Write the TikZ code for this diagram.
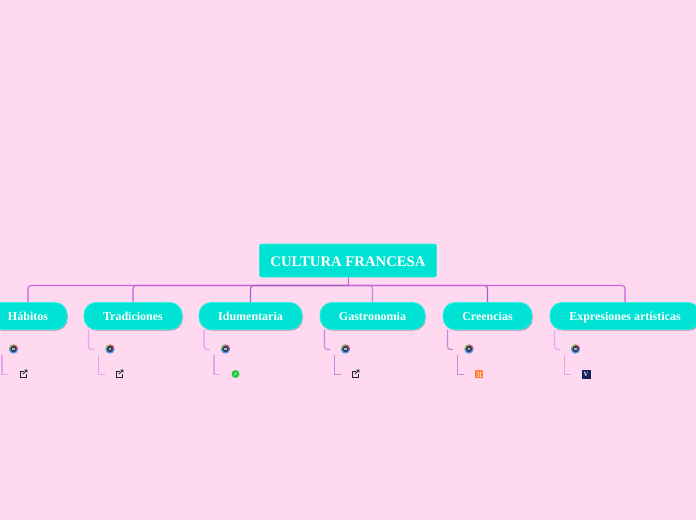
\documentclass[tikz,border=0pt]{standalone}
\usepackage{fontspec}
\setmainfont{Liberation Serif}
\usetikzlibrary{shadows}
\definecolor{pagebg}{HTML}{FFD9F0}
\definecolor{turq}{HTML}{00E3D4}
\definecolor{turqline}{HTML}{2CF0E2}
\definecolor{linka}{HTML}{C764DC}
\definecolor{linkb}{HTML}{A95CC8}
\definecolor{linkc}{HTML}{E4A6EC}
\definecolor{linkd}{HTML}{C986D8}
\definecolor{iconblue}{HTML}{2F3D5C}
\definecolor{icongreen}{HTML}{20CC3C}
\definecolor{iconorange}{HTML}{FF8033}
\definecolor{iconnavy}{HTML}{14205A}
\tikzset{
  rootbox/.style={draw=turqline,fill=turq,text=white,rounded corners=1.5pt,line width=.8pt,
    minimum width=177pt,minimum height=33pt,inner sep=0pt,text height=11pt,text depth=0pt,font=\bfseries\fontsize{14.7}{16}\selectfont},
  topicbox/.style={draw=turqline,fill=turq,text=white,rounded corners=12pt,line width=.8pt,
    minimum height=27pt,inner sep=0pt,text height=8pt,text depth=0pt,font=\bfseries\fontsize{12}{14}\selectfont,
    drop shadow={shadow xshift=.7pt,shadow yshift=-1pt,fill=black,opacity=.35}},
  link/.style={draw=linka,line width=1.1pt,rounded corners=3pt},
  sublink/.style={draw=linkc,line width=1.1pt,rounded corners=3pt},
  leaflink/.style={draw=linkc,line width=1.1pt},
  ringicon/.style={circle,inner sep=0pt,minimum size=9pt,fill=iconblue,path picture={
    \draw[line width=1.1pt,green!40!olive!70!white] (path picture bounding box.center) ++(-4pt,0pt) arc[start angle=180,end angle=90,radius=4pt];
    \draw[line width=1.1pt,red!50!purple!70!white] (path picture bounding box.center) ++(0pt,4pt) arc[start angle=90,end angle=0,radius=4pt];
    \draw[line width=1.1pt,blue!50!cyan!70!white] (path picture bounding box.center) ++(4pt,0pt) arc[start angle=0,end angle=-180,radius=4pt];
    \fill[white!70!black] (path picture bounding box.center) ++(-1.2pt,-1.2pt) rectangle ++(2.2pt,2pt);}},
  extlink/.style={inner sep=0pt,minimum size=8pt,path picture={
    \draw[black!85,line width=.8pt] (path picture bounding box.center) ++(.5pt,2.6pt) -- ++(-3.2pt,0pt) -- ++(0pt,-6pt) -- ++(6pt,0pt) -- ++(0pt,3.2pt);
    \draw[black!85,line width=.8pt] (path picture bounding box.center) ++(-.7pt,-.7pt) -- ++(4.2pt,4.2pt) ++(-2.6pt,0pt) -- ++(2.6pt,0pt) -- ++(0pt,-2.6pt);}},
  greenicon/.style={circle,inner sep=0pt,minimum size=8pt,fill=icongreen,path picture={
    \draw[white!60!icongreen,line width=.8pt] (path picture bounding box.center) ++(-1.2pt,-1.2pt) -- ++(2.4pt,2.4pt);}},
  orangeicon/.style={inner sep=0pt,minimum size=8.5pt,fill=iconorange,path picture={
    \draw[white!60!iconorange,line width=.6pt] (path picture bounding box.center) ++(-2.5pt,2pt) -- ++(1.5pt,0pt) -- ++(0pt,-4pt) -- ++(-1.5pt,0pt);
    \draw[white!60!iconorange,line width=.6pt] (path picture bounding box.center) ++(2.5pt,2pt) -- ++(-1.5pt,0pt) -- ++(0pt,-4pt) -- ++(1.5pt,0pt);}},
  navyicon/.style={inner sep=0pt,minimum size=9pt,fill=iconnavy,text=white,font=\bfseries\fontsize{6.5}{6.5}\selectfont}
}
\begin{document}
\begin{tikzpicture}[x=1pt,y=-1pt]
  \path[fill=pagebg,use as bounding box] (0,0) rectangle (696,520);

  \coordinate (j) at (348.5,285.5); % spine
  \node (cf) at (348,260.5) [rootbox] {CULTURA FRANCESA};

  \node (hab) at (28,316) [topicbox,minimum width=78pt] {Hábitos};
  \node (tra) at (133,316) [topicbox,minimum width=98pt] {Tradiciones};
  \node (idu) at (250.5,316) [topicbox,minimum width=103pt] {Idumentaria};
  \node (gas) at (372.5,316) [topicbox,minimum width=105pt] {Gastronomia};
  \node (cre) at (487.5,316) [topicbox,minimum width=89pt] {Creencias};
  \node (exp) at (625,316) [topicbox,minimum width=150pt] {Expresiones artísticas};

  \node (hab1) at (13.5,349) [ringicon] {};
  \node (tra1) at (110,349) [ringicon] {};
  \node (idu1) at (225.5,349) [ringicon] {};
  \node (gas1) at (345.5,349) [ringicon] {};
  \node (cre1) at (469,349) [ringicon] {};
  \node (exp1) at (575.5,349) [ringicon] {};

  \node (hab2) at (23.5,373.5) [extlink] {};
  \node (tra2) at (119.5,373.5) [extlink] {};
  \node (idu2) at (235.5,374) [greenicon] {};
  \node (gas2) at (355.5,373.5) [extlink] {};
  \node (cre2) at (479,374) [orangeicon] {};
  \node (exp2) at (586,374) [navyicon] {V};

  \coordinate (t1) at (88.5,329.5); % invisible node
  \coordinate (t2) at (204,329.5); % invisible node
  \coordinate (t3) at (324.5,329.5); % invisible node
  \coordinate (t4) at (447.5,329.5); % invisible node
  \coordinate (t5) at (554.5,329.5); % invisible node
  \coordinate (e1) at (94,349.5); % invisible node
  \coordinate (e2) at (209.5,349.5); % invisible node
  \coordinate (e3) at (330,349.5); % invisible node
  \coordinate (e4) at (453,349.5); % invisible node
  \coordinate (e5) at (560,349.5); % invisible node

  \coordinate (a0) at (2,355); % invisible node
  \coordinate (a1) at (98.5,355); % invisible node
  \coordinate (a2) at (214,355); % invisible node
  \coordinate (a3) at (334.5,355); % invisible node
  \coordinate (a4) at (457.5,355); % invisible node
  \coordinate (a5) at (564.5,355); % invisible node
  \coordinate (b0) at (8,374.5); % invisible node
  \coordinate (b1) at (104.5,374.5); % invisible node
  \coordinate (b2) at (220,374.5); % invisible node
  \coordinate (b3) at (340.5,374.5); % invisible node
  \coordinate (b4) at (463.5,374.5); % invisible node
  \coordinate (b5) at (570.5,374.5); % invisible node

  \draw[link] (j) -| (hab);
  \draw[link] (j) -| (tra);
  \draw[link,linkb] (j) -| (idu);
  \draw[link,linkd] (j) -| (gas);
  \draw[link,linkb] (j) -| (cre);
  \draw[link] (j) -| (exp);
  \draw[link] (cf) -- (j);

  \draw[sublink] (t1) |- (e1);
  \draw[sublink,linkc!80!linkd] (t2) |- (e2);
  \draw[sublink,linkd] (t3) |- (e3);
  \draw[sublink,linkd] (t4) |- (e4);
  \draw[sublink] (t5) |- (e5);

  \draw[leaflink] (a0) |- (b0);
  \draw[leaflink] (a1) |- (b1);
  \draw[leaflink] (a2) |- (b2);
  \draw[leaflink,linkd] (a3) |- (b3);
  \draw[leaflink,linkd] (a4) |- (b4);
  \draw[leaflink] (a5) |- (b5);
\end{tikzpicture}
\end{document}
